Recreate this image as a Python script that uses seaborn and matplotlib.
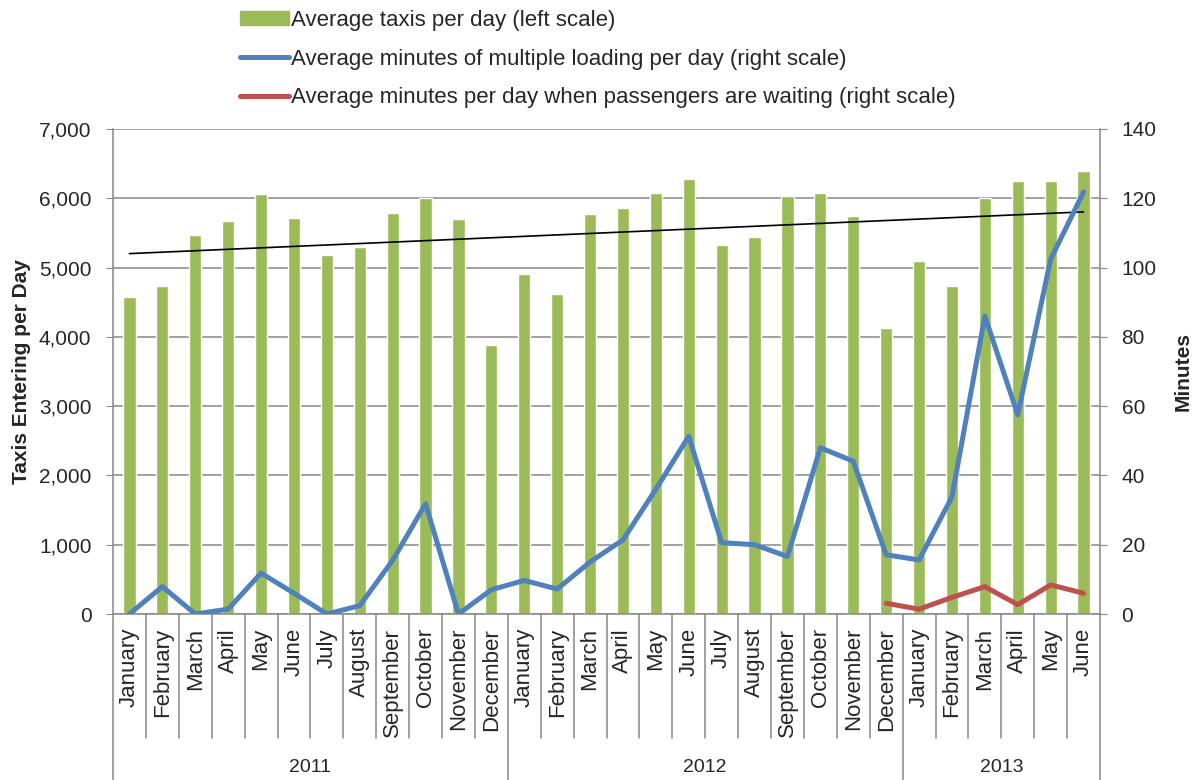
import numpy as np
import pandas as pd
import matplotlib
matplotlib.use("Agg")
import matplotlib.pyplot as plt
import matplotlib.patches as mpatches
from matplotlib.lines import Line2D
from matplotlib.ticker import StrMethodFormatter, MultipleLocator
import seaborn as sns

# ---------------------------------------------------------------------------
# Data
# ---------------------------------------------------------------------------

months = ["January", "February", "March", "April", "May", "June", "July",
          "August", "September", "October", "November", "December"] * 2 + \
         ["January", "February", "March", "April", "May", "June"]
years = ["2011", "2012", "2013"]
year_lengths = [12, 12, 6]

taxis_per_day = [4570, 4740, 5470, 5670, 6060, 5720, 5180, 5300, 5790, 6000, 5700, 3880,
                 4910, 4620, 5770, 5860, 6080, 6280, 5320, 5440, 6030, 6080, 5740, 4130,
                 5100, 4740, 6000, 6250, 6250, 6400]
multiple_loading_min = [0, 7.9, 0, 1.4, 11.8, 6.0, 0, 2.4, 15.5, 31.8, 0, 7.0,
                        9.7, 7.2, 15.0, 21.4, 36.0, 51.3, 20.6, 20.0, 16.6, 48.0, 44.1, 17.1,
                        15.6, 33.8, 86.0, 57.5, 102.4, 121.8]
# waiting series only exists from December 2012 onwards
waiting_start = 23
waiting_min = [3.1, 1.4, 4.8, 7.9, 2.7, 8.4, 6.0]

GREEN = "#9BBB59"
BLUE = "#4F81BD"
RED = "#C0504D"
GRID = "#878787"

# ---------------------------------------------------------------------------
# Figure
# ---------------------------------------------------------------------------

sns.set_style("white")
plt.rcParams["font.family"] = ["Liberation Sans", "DejaVu Sans"]

W, H = 1194, 780
fig = plt.figure(figsize=(W / 100, H / 100), dpi=100)
left, right, top, bottom = 113, 1100, 129, 614
ax = fig.add_axes([left / W, (H - bottom) / H, (right - left) / W, (bottom - top) / H])

pos = np.arange(len(taxis_per_day))
df = pd.DataFrame({"pos": pos, "taxis": taxis_per_day, "loading": multiple_loading_min})

ax.set_axisbelow(True)
ax.yaxis.grid(True, color=GRID, lw=1.1)
sns.barplot(data=df, x="pos", y="taxis", color=GREEN, saturation=1, width=0.37, ax=ax)

# linear trendline of the taxis series
slope, intercept = np.polyfit(pos, taxis_per_day, 1)
ax.plot(pos, slope * pos + intercept, color="black", lw=1.2, zorder=3)

ax.set_xlim(-0.5, len(pos) - 0.5)
ax.set_ylim(0, 7000)
ax.yaxis.set_major_locator(MultipleLocator(1000))
ax.yaxis.set_major_formatter(StrMethodFormatter("{x:,.0f}"))
ax.set_ylabel("Taxis Entering per Day", fontsize=15, fontweight="bold", labelpad=6)
ax.set_xlabel("")
ax.set_xticks(pos)
ax.set_xticklabels(months, rotation=90, fontsize=16, va="top")
ax.tick_params(axis="x", length=0, pad=10)
ax.tick_params(axis="y", direction="out", length=5, color=GRID, labelsize=15, pad=10.5, left=True)

for s in ["top", "right"]:
    ax.spines[s].set_visible(False)
for s in ["left", "bottom"]:
    ax.spines[s].set_color(GRID)
    ax.spines[s].set_linewidth(1.1)

# right axis
ax2 = ax.twinx()
sns.lineplot(x=pos, y=multiple_loading_min, color=BLUE, lw=3.6, ax=ax2)
sns.lineplot(x=pos[waiting_start:], y=waiting_min, color=RED, lw=3.6, ax=ax2)
ax2.set_ylim(0, 140)
ax2.yaxis.set_major_locator(MultipleLocator(20))
ax2.set_ylabel("Minutes", fontsize=15, fontweight="bold", labelpad=12)
ax2.tick_params(axis="y", direction="out", length=5, color=GRID, labelsize=15, pad=10.5, right=True)
for s in ["top", "left", "bottom"]:
    ax2.spines[s].set_visible(False)
ax2.spines["right"].set_color(GRID)
ax2.spines["right"].set_linewidth(1.1)

# multi-level category axis: separators and year labels
trans = ax.get_xaxis_transform()
month_bottom = -(738 - bottom) / (bottom - top)
year_bottom = -(H - bottom) / (bottom - top)
year_edges = np.cumsum([0] + year_lengths) - 0.5
for b in np.arange(len(pos) + 1) - 0.5:
    y_end = year_bottom if b in year_edges else month_bottom
    ax.plot([b, b], [0, y_end], color=GRID, lw=1.1, transform=trans, clip_on=False)
for yr, a, b in zip(years, year_edges[:-1], year_edges[1:]):
    ax.text((a + b) / 2, -(768 - bottom) / (bottom - top), yr, transform=trans,
            ha="center", va="center", fontsize=14)

# legend
handles = [
    mpatches.Patch(color=GREEN, label="Average taxis per day (left scale)"),
    Line2D([], [], color=BLUE, lw=3.6, label="Average minutes of multiple loading per day (right scale)"),
    Line2D([], [], color=RED, lw=3.6, label="Average minutes per day when passengers are waiting (right scale)"),
]
fig.legend(handles=handles, loc="upper left", bbox_to_anchor=(231 / W, 1 - 1 / H),
           frameon=False, fontsize=16, handlelength=2.2, handleheight=0.6,
           handletextpad=0.1, labelspacing=0.8, borderaxespad=0)

fig.savefig("out.png", dpi=100)
